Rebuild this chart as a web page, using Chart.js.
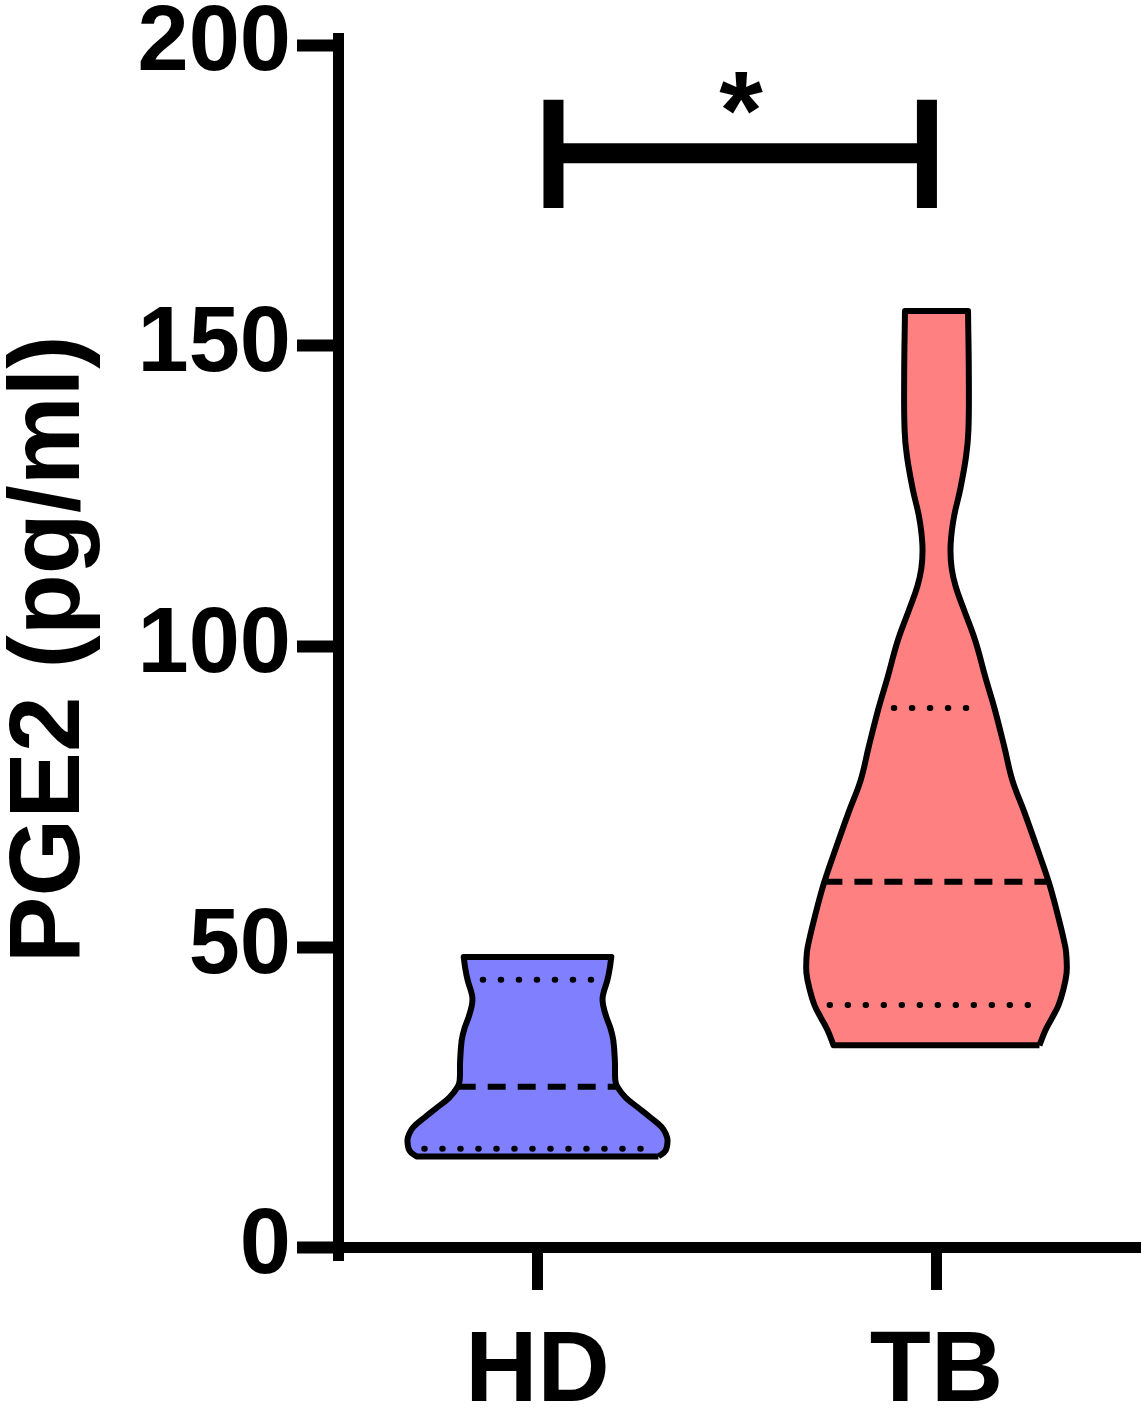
<!DOCTYPE html>
<html>
<head>
<meta charset="utf-8">
<script src="https://cdn.jsdelivr.net/npm/chart.js@4.4.1/dist/chart.umd.min.js"></script>
<style>
    html, body { margin: 0; padding: 0; background: #fff; }
    #wrap { width: 1141px; height: 1414px; }
</style>
</head>
<body>
<div id="wrap"><canvas id="violinChart"></canvas></div>
<script>
const categories = ['HD', 'TB'];
const yTicks = [0, 50, 100, 150, 200];

// violin outlines: value levels (pg/ml) and half width (category units)
const hdLevels = [15.2, 16.2, 17.9, 18.9, 20.1, 21.7, 23.4, 25.0, 26.8, 27.9, 31.0, 34.5, 36.5, 38.5, 40.2, 41.5, 42.8, 44.5, 46.5, 48.4];
const hdHalfWidth = [0.303, 0.321, 0.326, 0.322, 0.311, 0.283, 0.251, 0.221, 0.200, 0.195, 0.194, 0.190, 0.183, 0.172, 0.165, 0.163, 0.167, 0.175, 0.181, 0.185];
const tbLevels = [33.7, 36.2, 38.3, 40.4, 43.0, 45.7, 48.0, 50.0, 55.6, 60.9, 66.7, 72.3, 77.8, 83.3, 89.8, 95.0, 101.0, 106.6, 110.0, 113.0, 116.0, 119.0, 122.0, 126.0, 131.6, 136.0, 145.0, 155.8];
const tbHalfWidth = [0.258, 0.273, 0.290, 0.306, 0.318, 0.326, 0.326, 0.323, 0.303, 0.281, 0.251, 0.221, 0.190, 0.170, 0.145, 0.122, 0.097, 0.066, 0.048, 0.038, 0.035, 0.038, 0.045, 0.059, 0.074, 0.080, 0.081, 0.079];

// [Q1, median, Q3]
const hdQuartiles = [16.5, 26.8, 44.6];
const tbQuartiles = [40.4, 60.9, 89.8];
const significance = '*';

const FONT = '"Liberation Sans", Arial, sans-serif';
Chart.defaults.font.family = FONT;
Chart.defaults.color = '#000';

// closed outline; corner points doubled so the flat ends stay square
function outline(center, levels, half) {
    const right = levels.map((v, i) => ({ x: center + half[i], y: v }));
    const left = levels.map((v, i) => ({ x: center - half[i], y: v })).reverse();
    const n = levels.length - 1;
    return [...right, right[n], left[0], ...left, left[n], right[0]];
}

function widthAt(levels, half, v) {
    for (let i = 1; i < levels.length; i++) {
        if (v <= levels[i]) {
            const t = (v - levels[i - 1]) / (levels[i] - levels[i - 1]);
            return half[i - 1] + t * (half[i] - half[i - 1]);
        }
    }
    return half[half.length - 1];
}

function quartileLines(center, levels, half, q) {
    return q.map((v, i) => {
        const isMedian = i === 1;
        const w = widthAt(levels, half, v) - (isMedian ? 0 : 0.038);
        return {
            data: [{ x: center - w, y: v }, { x: center + w, y: v }],
            borderColor: '#000',
            borderWidth: 6,
            borderDash: isMedian ? [18, 12] : [0.5, 17.5],
            borderCapStyle: isMedian ? 'butt' : 'round',
            pointRadius: 0,
            fill: false,
            tension: 0
        };
    });
}

function violin(center, levels, half, color) {
    return {
        data: outline(center, levels, half),
        borderColor: '#000',
        borderWidth: 6,
        borderJoinStyle: 'round',
        backgroundColor: color,
        fill: 'shape',
        tension: 0.4,
        pointRadius: 0
    };
}

const bracketStyle = { borderColor: '#000', borderWidth: 20, borderCapStyle: 'butt', pointRadius: 0, fill: false, tension: 0 };

const datasets = [
    { ...bracketStyle, data: [{ x: 1.04, y: 172.9 }, { x: 1.04, y: 190.9 }] },
    { ...bracketStyle, data: [{ x: 1.976, y: 172.9 }, { x: 1.976, y: 190.9 }] },
    { ...bracketStyle, data: [{ x: 1.04, y: 182 }, { x: 1.976, y: 182 }] },
    ...quartileLines(1, hdLevels, hdHalfWidth, hdQuartiles),
    ...quartileLines(2, tbLevels, tbHalfWidth, tbQuartiles),
    violin(1, hdLevels, hdHalfWidth, '#8080ff'),
    violin(2, tbLevels, tbHalfWidth, '#ff8080')
];

// significance star above the bracket
const sigPlugin = {
    id: 'sigLabel',
    afterDatasetsDraw(chart) {
        const { ctx, scales: { x, y } } = chart;
        ctx.save();
        ctx.font = 'bold 112px ' + FONT;
        ctx.fillStyle = '#000';
        ctx.textAlign = 'center';
        ctx.textBaseline = 'alphabetic';
        ctx.fillText(significance, x.getPixelForValue(1.51), y.getPixelForValue(182.8));
        ctx.restore();
    }
};

const ctx = document.getElementById('violinChart').getContext('2d');
new Chart(ctx, {
    type: 'line',
    data: { datasets },
    options: {
        responsive: true,
        maintainAspectRatio: false,
        animation: false,
        events: [],
        layout: { padding: { top: 38.5, bottom: 154, left: 0, right: 0 } },
        plugins: { legend: { display: false }, tooltip: { enabled: false } },
        scales: {
            x: {
                type: 'linear',
                position: { y: 0 },
                min: 0.5,
                max: 2.5125,
                afterBuildTicks: (s) => { s.ticks = categories.map((c, i) => ({ value: i + 1 })); },
                afterFit: (s) => { s.paddingLeft = 0; s.paddingRight = 0; },
                ticks: {
                    autoSkip: false,
                    maxRotation: 0,
                    padding: 28,
                    font: { size: 100, weight: 'bold' },
                    color: '#000',
                    callback: (v, i) => categories[i]
                },
                grid: { drawOnChartArea: false, drawTicks: true, tickLength: 37, tickWidth: 11, tickColor: '#000', lineWidth: 1, color: '#000' },
                border: { display: true, color: '#000', width: 11 }
            },
            y: {
                type: 'linear',
                min: -2,
                max: 201.1,
                afterBuildTicks: (s) => { s.ticks = yTicks.map(v => ({ value: v })); },
                afterFit: (s) => { s.width = 338; s.paddingTop = 0; s.paddingBottom = 0; },
                ticks: {
                    padding: 6,
                    font: { size: 92, weight: 'bold' },
                    color: '#000'
                },
                grid: { drawOnChartArea: false, drawTicks: true, tickLength: 41, tickWidth: 12, tickColor: '#000', lineWidth: 1, color: '#000' },
                border: { display: true, color: '#000', width: 11 },
                title: {
                    display: true,
                    text: 'PGE2 (pg/ml)',
                    color: '#000',
                    font: { size: 100, weight: 'bold', lineHeight: 1 },
                    padding: { top: 1, bottom: 0 }
                }
            }
        }
    },
    plugins: [sigPlugin]
});
</script>
</body>
</html>
